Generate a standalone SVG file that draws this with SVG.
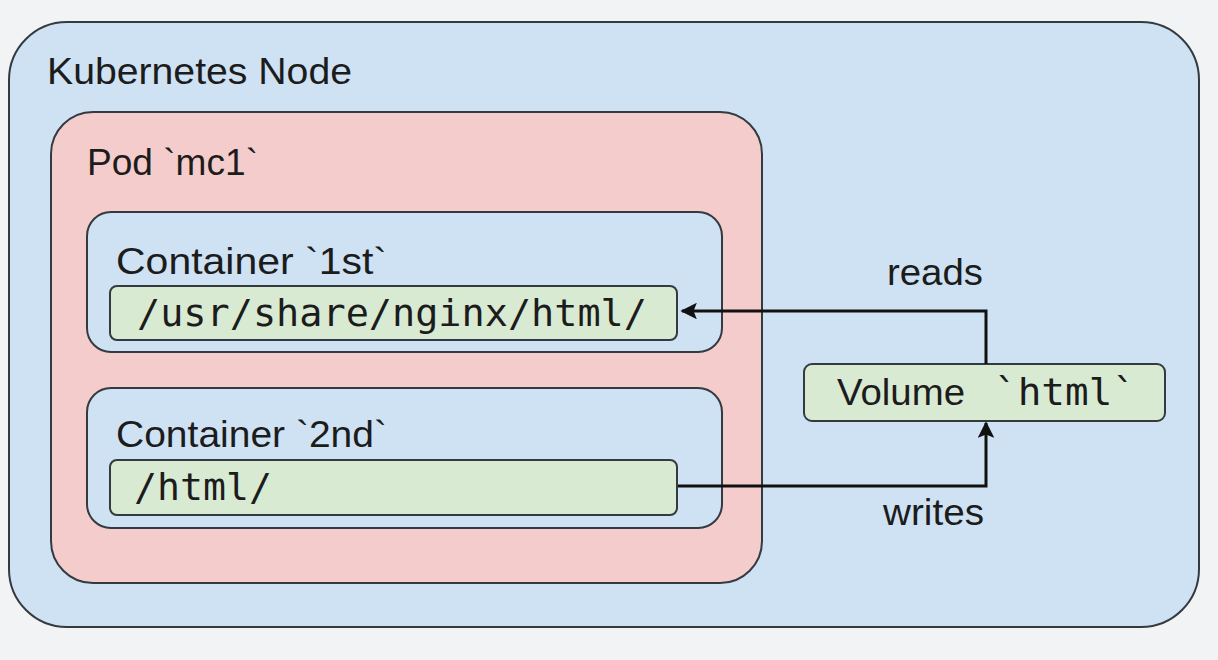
<svg xmlns="http://www.w3.org/2000/svg" width="1218" height="660" viewBox="0 0 1218 660">
  <style>
    .box { stroke: #333a40; stroke-width: 2; }
    .k8s { fill: #cfe2f3; }
    .pod { fill: #f4cccc; }
    .ctr { fill: #cfe2f3; }
    .path { fill: #d9ead3; }
    .sans { font-family: "Liberation Sans", Arial, sans-serif; font-size: 37px; fill: #1c1c1c; }
    .mono { font-family: "DejaVu Sans Mono", "Liberation Mono", monospace; font-size: 38px; fill: #1c1c1c; }
    .conn { fill: none; stroke: #111; stroke-width: 3; }
  </style>
  <defs>
    <marker id="arrow" viewBox="0 0 10 10" refX="9" refY="5" markerWidth="8" markerHeight="5.5" markerUnits="strokeWidth" orient="auto">
      <path d="M0,0 L10,5 L0,10 L2,5 Z" fill="#111"/>
    </marker>
  </defs>
  <rect x="0" y="0" width="1218" height="660" fill="#f2f3f4"/>

  <g id="kubernetes-node">
    <rect class="box k8s" x="9" y="22" width="1190" height="605" rx="58" ry="58"/>
    <text class="sans" x="47" y="84" textLength="305" lengthAdjust="spacingAndGlyphs">Kubernetes Node</text>
  </g>

  <g id="pod-mc1">
    <rect class="box pod" x="51" y="112" width="711" height="471" rx="42" ry="42"/>
    <text class="sans" x="87" y="175" textLength="171" lengthAdjust="spacingAndGlyphs">Pod `mc1`</text>
  </g>

  <g id="container-1st">
    <rect class="box ctr" x="87" y="212" width="635" height="140" rx="24" ry="24"/>
    <text class="sans" x="116" y="274" textLength="271" lengthAdjust="spacingAndGlyphs">Container `1st`</text>
    <rect class="box path" x="110" y="286" width="567" height="54" rx="7" ry="7"/>
    <text class="mono" x="137" y="326" textLength="510" lengthAdjust="spacingAndGlyphs">/usr/share/nginx/html/</text>
  </g>

  <g id="container-2nd">
    <rect class="box ctr" x="87" y="388" width="635" height="140" rx="24" ry="24"/>
    <text class="sans" x="116" y="447" textLength="271" lengthAdjust="spacingAndGlyphs">Container `2nd`</text>
    <rect class="box path" x="110" y="460" width="567" height="55" rx="7" ry="7"/>
    <text class="mono" x="134" y="500" textLength="138" lengthAdjust="spacingAndGlyphs">/html/</text>
  </g>

  <g id="volume-html">
    <rect class="box path" x="804" y="364" width="361" height="57" rx="8" ry="8"/>
    <text class="sans" x="837" y="405" textLength="128" lengthAdjust="spacingAndGlyphs">Volume</text>
    <text class="mono" x="994" y="405" textLength="142" lengthAdjust="spacingAndGlyphs">`html`</text>
  </g>

  <g id="connectors">
    <path class="conn" d="M986,364 L986,311 L682,311" marker-end="url(#arrow)"/>
    <path class="conn" d="M678,486 L986,486 L986,423" marker-end="url(#arrow)"/>
    <text class="sans" x="887" y="285" textLength="96" lengthAdjust="spacingAndGlyphs">reads</text>
    <text class="sans" x="883" y="525" textLength="101" lengthAdjust="spacingAndGlyphs">writes</text>
  </g>
</svg>
